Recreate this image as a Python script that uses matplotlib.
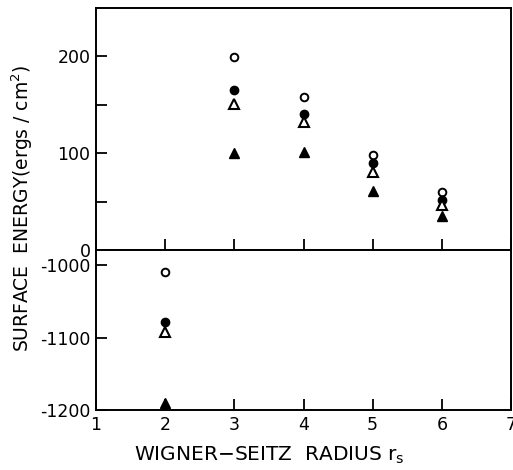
import matplotlib
matplotlib.use("Agg")
import matplotlib.pyplot as plt
from matplotlib.ticker import FixedLocator

# Data
rs_upper = [3, 4, 5, 6]
open_circ_up = [199, 158, 98, 60]
fill_circ_up = [165, 141, 90, 52]
open_tri_up = [151, 132, 81, 47]
fill_tri_up = [100, 101, 61, 35]

rs_lower = [2]
open_circ_lo = [-1010]
fill_circ_lo = [-1078]
open_tri_lo = [-1092]
fill_tri_lo = [-1190]

x_ticks = [1, 2, 3, 4, 5, 6, 7]

plt.rcParams['font.family'] = 'DejaVu Sans'

fig = plt.figure(figsize=(5.13, 4.70), dpi=100)
L, R = 96 / 513, 511 / 513
ytop, ymid, ybot = 1 - 8 / 470, 1 - 250 / 470, 1 - 410 / 470
ax1 = fig.add_axes([L, ymid, R - L, ytop - ymid])
ax2 = fig.add_axes([L, ybot, R - L, ymid - ybot])


def draw(ax, x, oc, fc, ot, ft):
    ax.plot(x, oc, 'o', ms=5.5, mfc='white', mec='black', mew=1.4)
    ax.plot(x, fc, 'o', ms=6, mfc='black', mec='black')
    ax.plot(x, ot, '^', ms=7.5, mfc='white', mec='black', mew=1.5)
    ax.plot(x, ft, '^', ms=7.5, mfc='black', mec='black')


draw(ax1, rs_upper, open_circ_up, fill_circ_up, open_tri_up, fill_tri_up)
draw(ax2, rs_lower, open_circ_lo, fill_circ_lo, open_tri_lo, fill_tri_lo)

for ax in (ax1, ax2):
    ax.set_xlim(1, 7)
    for s in ax.spines.values():
        s.set_linewidth(1.4)
    ax.tick_params(direction='in', length=8, width=1.3, labelsize=12.5,
                   pad=4, top=False, right=False)
    ax.tick_params(which='minor', direction='in', length=8, width=1.3)
    ax.xaxis.set_major_locator(FixedLocator(x_ticks))

ax1.set_ylim(0, 250)
ax1.set_yticks([0, 100, 200])
ax1.yaxis.set_minor_locator(FixedLocator([50, 150]))
ax1.tick_params(axis='x', labelbottom=False)

ax2.set_ylim(-1200, -979)
ax2.set_yticks([-1200, -1100, -1000])
ax2.set_yticklabels(['-1200', '-1100', '-1000'])

fig.text(269 / 513, 1 - 455 / 470, 'WIGNER\u2212SEITZ  RADIUS r$_{\\rm s}$',
         ha='center', va='center', fontsize=14.5)
fig.text(22 / 513, 1 - 208 / 470, 'SURFACE  ENERGY(ergs / cm$^2$)',
         ha='center', va='center', rotation=90, fontsize=13.5)

fig.savefig('out.png', dpi=100)
